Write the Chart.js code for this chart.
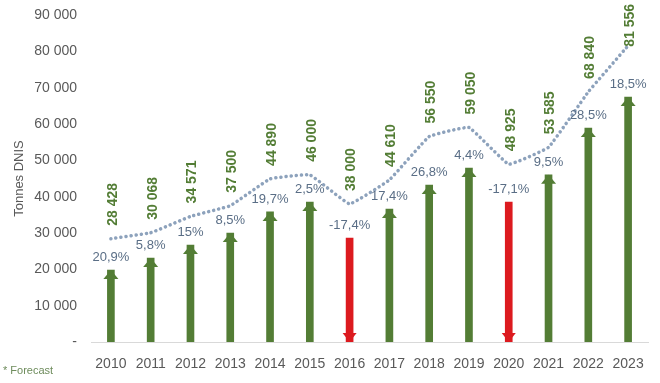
<!DOCTYPE html>
<html>
<head>
<meta charset="utf-8">
<script src="https://cdn.jsdelivr.net/npm/chart.js@4/dist/chart.umd.min.js"></script>
<style>
    html, body { margin: 0; padding: 0; background: #fff; }
    #wrap { position: relative; width: 660px; height: 383px; }
    #note {
        position: absolute; left: 3px; top: 364px;
        font: 11px "Liberation Sans", Arial, sans-serif;
        color: #6e8c5c;
    }
</style>
</head>
<body>
<div id="wrap">
    <canvas id="tonnesChart" width="660" height="383"></canvas>
    <div id="note">* Forecast</div>
</div>
<script>
// Chart data
const years = ['2010', '2011', '2012', '2013', '2014', '2015', '2016', '2017', '2018', '2019', '2020', '2021', '2022', '2023'];
const tonnes = [28428, 30068, 34571, 37500, 44890, 46000, 38000, 44610, 56550, 59050, 48925, 53585, 68840, 81556];
const growth = [20.9, 5.8, 15, 8.5, 19.7, 2.5, -17.4, 17.4, 26.8, 4.4, -17.1, 9.5, 28.5, 18.5];
const arrowHeights = [19800, 23100, 26700, 30000, 35800, 38500, 28600, 36600, 43200, 47900, 38500, 46000, 58900, 67400];
const yTicks = [0, 10000, 20000, 30000, 40000, 50000, 60000, 70000, 80000, 90000];

const GREEN = '#537d35';
const RED = '#dc1a1f';
const FONT = '"Liberation Sans", Arial, sans-serif';

function fmtThousands(v) {
    return String(v).replace(/\B(?=(\d{3})+(?!\d))/g, ' ');
}

function fmtPct(v) {
    return String(v).replace('.', ',') + '%';
}

// arrow heads + labels
const arrowsAndLabels = {
    id: 'arrowsAndLabels',
    afterDatasetsDraw(chart) {
        const ctx = chart.ctx;
        const barMeta = chart.getDatasetMeta(1);
        const lineMeta = chart.getDatasetMeta(0);

        ctx.save();
        barMeta.data.forEach((bar, i) => {
            const down = growth[i] < 0;
            ctx.fillStyle = down ? RED : GREEN;
            ctx.beginPath();
            if (down) {
                ctx.moveTo(bar.x, bar.base);
                ctx.lineTo(bar.x - 7, bar.base - 9);
                ctx.lineTo(bar.x + 7, bar.base - 9);
            } else {
                ctx.moveTo(bar.x, bar.y);
                ctx.lineTo(bar.x - 7.5, bar.y + 9);
                ctx.lineTo(bar.x + 7.5, bar.y + 9);
            }
            ctx.closePath();
            ctx.fill();

            // growth label
            ctx.font = '13px ' + FONT;
            ctx.fillStyle = '#5a6e86';
            ctx.textAlign = 'center';
            ctx.textBaseline = 'bottom';
            ctx.fillText(fmtPct(growth[i]), bar.x, bar.y - 6);
        });

        ctx.font = 'bold 14px ' + FONT;
        lineMeta.data.forEach((pt, i) => {
            const text = fmtThousands(tonnes[i]);
            const w = ctx.measureText(text).width;
            // keep the label inside the canvas
            const start = Math.max(pt.y - 13, w + 4);
            ctx.save();
            ctx.translate(pt.x + 2, start);
            ctx.rotate(-Math.PI / 2);
            ctx.fillStyle = GREEN;
            ctx.textAlign = 'left';
            ctx.textBaseline = 'middle';
            ctx.fillText(text, 0, 0);
            ctx.restore();
        });
        ctx.restore();
    }
};

new Chart(document.getElementById('tonnesChart'), {
    data: {
        labels: years,
        datasets: [{
            type: 'line',
            data: tonnes,
            borderColor: '#8da2bc',
            borderWidth: 3.5,
            borderDash: [0.1, 5],
            borderCapStyle: 'round',
            pointRadius: 0,
            tension: 0.08,
            order: 0
        }, {
            type: 'bar',
            data: arrowHeights,
            backgroundColor: growth.map(g => g < 0 ? RED : GREEN),
            barThickness: 7,
            order: 1
        }]
    },
    options: {
        responsive: false,
        animation: false,
        layout: {
            padding: { top: 15, right: 12, bottom: 8, left: 12 }
        },
        plugins: {
            legend: { display: false },
            tooltip: { enabled: false }
        },
        scales: {
            x: {
                grid: { display: false },
                border: { display: true, color: '#d9d9d9' },
                ticks: { color: '#595959', font: { family: FONT, size: 14 }, padding: 6 },
                afterFit: (scale) => { scale.height = 33; }
            },
            y: {
                min: 0,
                max: 90000,
                afterBuildTicks: (scale) => { scale.ticks = yTicks.map(v => ({ value: v })); },
                grid: { display: false },
                border: { display: false },
                ticks: {
                    color: '#595959',
                    font: { family: FONT, size: 14 },
                    padding: 6,
                    callback: (v) => v === 0 ? '-' : fmtThousands(v)
                },
                title: {
                    display: true,
                    text: 'Tonnes DNIS',
                    color: '#595959',
                    font: { family: FONT, size: 13 },
                    padding: { top: 0, bottom: 0 }
                },
                afterFit: (scale) => { scale.width = 79; }
            }
        }
    },
    plugins: [arrowsAndLabels]
});
</script>
</body>
</html>
